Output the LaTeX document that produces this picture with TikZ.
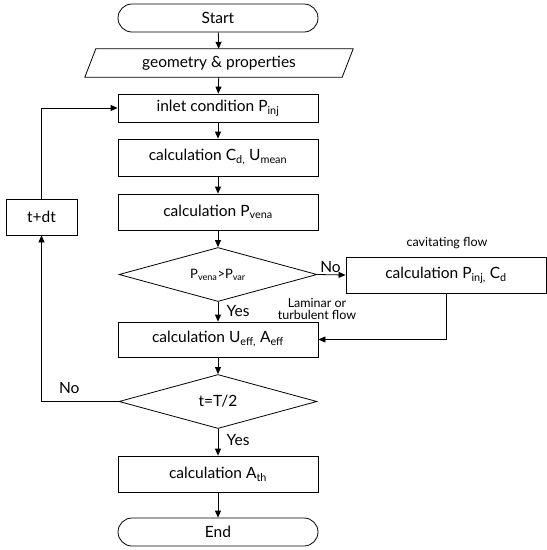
\documentclass[tikz,border=0pt]{standalone}
\usepackage{fontspec}
\setmainfont{Lato}
\usetikzlibrary{calc,shapes.geometric,arrows.meta}
\def\procnode{\node[draw=black,line width=0.8pt,minimum width=200pt,minimum height=36pt,inner sep=0pt]}
\def\termnode{\node[draw=black,line width=0.8pt,rounded corners=14pt,minimum width=200pt,minimum height=28pt,inner sep=0pt]}
\def\decnode{\node[draw=black,line width=0.8pt,diamond,aspect=3.6,inner sep=0pt,minimum width=198pt,minimum height=54pt]}
\def\drawflow{\draw[line width=0.8pt,-{Triangle[length=7pt,width=6pt]}]}
\def\smalltext{\fontsize{12.5}{15}\selectfont}

\begin{document}
\begin{tikzpicture}[x=1pt,y=-1pt,font=\fontsize{15.5}{18}\selectfont]
\useasboundingbox (0,0) rectangle (547,550);
\coordinate (col) at (218,0); % the main column, everything hangs below it
\coordinate (side) at (446,0); % the cavitating branch
\coordinate (back) at (41.5,0); % the time loop on the left

% ---------- main column
\termnode (start) at ($ (col) + (0,18) $) {Start};
\node[minimum width=257pt,minimum height=28pt,inner sep=0pt] (geom) at ($ (col) + (1,63) $) {geometry \& properties};
\draw[line width=0.8pt] ($ (geom.south west) + (-5.5,0) $) -- ($ (geom.north west) + (5.5,0) $)
  -- ($ (geom.north east) + (5.5,0) $) -- ($ (geom.south east) + (-5.5,0) $) -- cycle; % input slab
\procnode[minimum height=28pt] (inlet) at ($ (col) + (0,108) $) {inlet condition P\textsubscript{inj}};
\procnode[minimum height=37pt] (cd) at ($ (col) + (0,157.5) $) {calculation C\textsubscript{d,} U\textsubscript{mean}};
\procnode (vena) at ($ (col) + (0,212) $) {calculation P\textsubscript{vena}};
\decnode (check) at ($ (col) + (0,274.5) $) {\fontsize{13}{15}\selectfont P\textsubscript{vena}>P\textsubscript{var}};
\procnode[minimum height=35pt] (ueff) at ($ (col) + (0,339.5) $) {calculation U\textsubscript{eff,} A\textsubscript{eff}};
\decnode (half) at ($ (col) + (0,401.5) $) {t=T/2};
\procnode (ath) at ($ (col) + (0,474) $) {calculation A\textsubscript{th}};
\termnode (end) at ($ (col) + (0,532) $) {End};

% ---------- side branch and time loop
\procnode (cav) at ($ (side) + (0,275) $) {calculation P\textsubscript{inj,} C\textsubscript{d}};
\node[font=\smalltext] (cavlabel) at ($ (side) + (1,243) $) {cavitating flow};
\node[font=\smalltext,align=center] (lamlabel) at ($ (col) + (99,309) $) {Laminar or\\[-3pt]turbulent flow};
\procnode[minimum width=71pt] (tdt) at ($ (back) + (0,217) $) {t+dt};

% ---------- connectors
\drawflow (start) to (geom);
\drawflow (geom) to (inlet);
\drawflow (inlet) to (cd);
\drawflow (cd) to (vena);
\drawflow (vena) to (check);
\drawflow (check.east) to node[above,xshift=-1pt,yshift=-2pt] {No} (cav.west);
\drawflow (check.south) to node[right,xshift=5pt,yshift=1pt] {Yes} (ueff.north);
\drawflow (cav.south) |- (ueff.east);
\drawflow (ueff) to (half);
\drawflow (half.south) to node[right,xshift=5pt,yshift=2pt] {Yes} (ath.north);
\drawflow (ath) to (end);
\drawflow (half.west) -| node[pos=0.32,above,yshift=4pt] {No} (tdt.south);
\drawflow (tdt.north) |- (inlet.west);
\end{tikzpicture}
\end{document}
